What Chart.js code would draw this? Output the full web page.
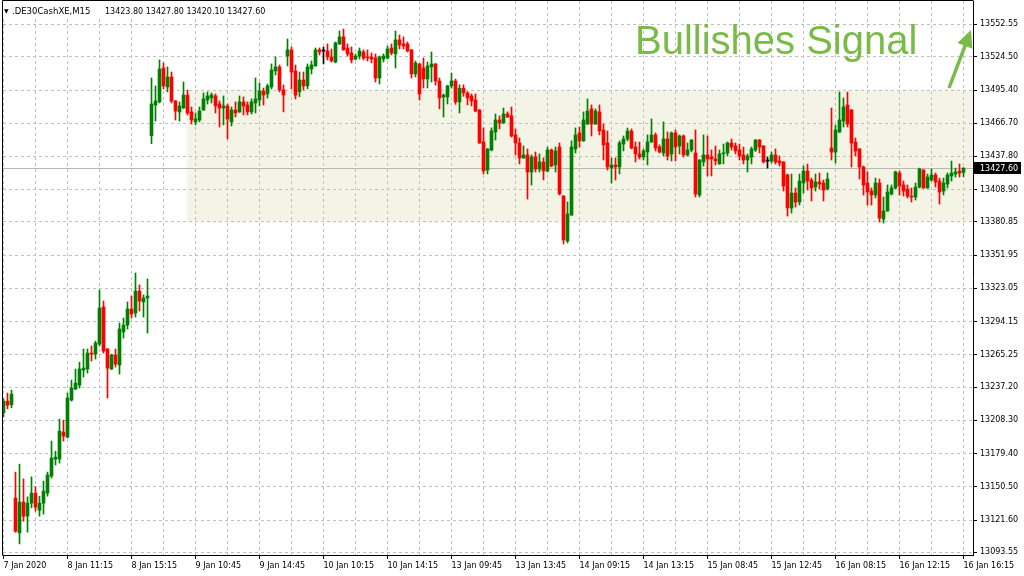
<!DOCTYPE html>
<html>
<head>
<meta charset="utf-8">
<script src="https://cdn.jsdelivr.net/npm/chart.js@4.4.1/dist/chart.umd.min.js"></script>
<style>
  html, body { margin: 0; padding: 0; background: #ffffff; }
  #c { display: block; background: #ffffff; }
</style>
</head>
<body>
<canvas id="c" width="1024" height="576"></canvas>
<script>
// ---------- DATA (DE30 cash, M15 candles) ----------
const symbolName = '.DE30CashXE,M15';
const signalText = 'Bullishes Signal';

const opens = [
13214.9,13225.0,13221.8,13140.7,13110.5,13137.2,13125.0,13136.3,13145.0,13130.2,
13136.3,13145.0,13159.8,13174.6,13174.6,13198.1,13193.7,13225.9,13235.5,13238.9,
13252.0,13252.9,13266.8,13265.9,13274.6,13306.8,13270.3,13252.9,13265.1,13256.4,
13285.1,13291.1,13305.1,13301.6,13320.7,13311.2,13314.7,13455.8,13482.4,13485.1,
13514.6,13498.1,13506.8,13485.9,13476.4,13479.8,13491.1,13476.4,13467.7,13469.4,
13478.1,13486.8,13488.5,13490.3,13483.3,13479.8,13481.6,13467.7,13478.1,13476.4,
13485.1,13482.4,13476.4,13484.2,13486.8,13494.6,13492.0,13498.1,13512.0,13515.5,
13495.5,13525.0,13530.3,13512.0,13494.0,13504.2,13499.0,13513.7,13516.4,13530.3,
13529.4,13529.4,13524.2,13519.8,13535.5,13541.6,13532.0,13527.7,13522.4,13525.0,
13528.5,13524.2,13524.2,13523.3,13505.9,13522.4,13523.3,13532.0,13526.8,13539.0,
13535.5,13535.5,13530.3,13509.4,13518.1,13514.6,13505.1,13515.5,13518.1,13503.3,
13489.4,13489.4,13499.0,13503.3,13485.1,13497.0,13492.9,13490.3,13486.8,13478.1,
13450.3,13425.9,13443.3,13459.0,13469.4,13466.8,13474.6,13472.9,13456.4,13449.4,
13436.4,13439.0,13424.2,13437.3,13426.8,13432.9,13425.1,13443.3,13430.3,13445.9,
13403.3,13364.2,13386.8,13444.2,13458.1,13451.2,13465.9,13479.0,13465.9,13476.4,
13460.7,13449.4,13427.7,13430.3,13428.6,13448.5,13452.9,13459.8,13445.9,13439.9,
13437.2,13441.6,13450.3,13456.4,13445.9,13440.7,13452.9,13439.9,13458.1,13446.8,
13455.5,13439.0,13443.3,13440.7,13404.2,13432.9,13439.0,13437.2,13435.5,13431.2,
13439.9,13440.7,13449.4,13446.8,13443.3,13439.0,13434.6,13437.2,13443.3,13452.0,
13446.8,13433.7,13433.7,13438.9,13433.7,13432.9,13421.6,13392.9,13405.9,13398.1,
13414.6,13425.0,13417.2,13411.1,13415.5,13414.6,13409.4,13445.0,13441.5,13458.9,
13468.5,13482.4,13478.1,13450.2,13444.2,13428.5,13414.6,13407.6,13404.2,13414.6,
13383.3,13390.3,13405.0,13410.3,13423.3,13412.9,13409.4,13403.3,13402.4,13411.1,
13425.9,13410.3,13417.2,13421.6,13416.3,13407.6,13413.7,13420.7,13422.4,13425.0,
13423.8];

const highs = [
13227.1,13232.0,13234.6,13163.3,13170.2,13157.4,13141.8,13159.2,13150.5,13142.4,
13155.4,13163.3,13190.3,13181.5,13209.4,13208.5,13232.0,13243.3,13252.9,13258.9,
13270.3,13270.3,13272.9,13277.2,13321.6,13312.0,13270.8,13265.9,13270.3,13292.9,
13297.2,13311.2,13316.4,13336.4,13326.0,13317.3,13331.2,13505.9,13499.0,13521.6,
13519.0,13515.5,13511.1,13486.3,13485.1,13502.4,13495.5,13480.7,13475.5,13480.7,
13492.9,13493.8,13492.9,13492.0,13485.9,13490.3,13483.3,13480.7,13485.1,13490.3,
13489.4,13485.1,13487.7,13505.9,13501.6,13497.2,13500.7,13518.1,13524.2,13517.2,
13499.8,13539.8,13532.9,13517.2,13511.1,13511.1,13518.1,13520.7,13532.0,13532.0,
13532.9,13535.5,13531.1,13537.2,13546.8,13548.5,13535.5,13532.9,13526.8,13532.0,
13530.3,13530.3,13527.7,13526.8,13525.0,13526.8,13533.7,13535.5,13546.8,13543.3,
13541.6,13537.2,13530.8,13520.7,13518.5,13523.3,13519.8,13528.5,13518.5,13505.9,
13492.0,13499.4,13510.3,13505.0,13500.0,13500.0,13494.0,13492.0,13492.0,13478.5,
13462.5,13444.6,13462.5,13474.6,13472.9,13479.8,13476.4,13480.7,13461.6,13453.8,
13446.8,13444.2,13439.0,13441.6,13439.9,13436.4,13445.9,13444.2,13445.9,13449.4,
13403.7,13398.1,13451.2,13462.5,13463.3,13476.4,13487.7,13482.5,13479.0,13482.5,
13465.9,13459.8,13436.4,13436.4,13451.2,13455.5,13462.4,13461.6,13450.3,13450.3,
13444.2,13456.4,13470.3,13458.1,13447.7,13467.7,13459.0,13459.0,13460.7,13456.4,
13456.4,13449.4,13452.4,13460.7,13435.0,13456.4,13455.5,13443.3,13446.8,13443.3,
13448.5,13450.3,13452.9,13449.4,13448.5,13445.9,13439.9,13445.9,13452.4,13452.4,
13447.2,13437.2,13441.5,13444.2,13438.1,13433.3,13422.4,13422.4,13410.3,13422.4,
13429.4,13431.1,13418.9,13422.4,13423.3,13417.2,13423.3,13479.8,13465.0,13493.7,
13488.5,13493.7,13478.5,13453.7,13444.6,13429.4,13424.2,13410.3,13418.9,13418.1,
13402.4,13412.9,13412.9,13425.0,13425.0,13416.3,13412.9,13410.3,13414.6,13427.6,
13426.3,13422.4,13426.8,13423.3,13418.9,13418.9,13423.3,13433.7,13427.6,13431.1,
13427.8];

const lows = [
13211.4,13218.3,13219.2,13111.0,13100.9,13120.6,13111.1,13132.3,13129.4,13125.0,
13126.7,13142.4,13158.1,13169.4,13171.1,13190.3,13193.0,13225.0,13235.0,13236.4,
13245.9,13249.4,13259.8,13261.6,13272.9,13266.8,13227.7,13252.5,13254.6,13248.5,
13279.8,13287.7,13297.2,13298.1,13303.3,13298.1,13284.2,13448.8,13468.5,13484.2,
13496.4,13493.8,13484.2,13469.4,13468.5,13479.4,13473.8,13465.9,13465.1,13467.7,
13477.7,13483.3,13484.2,13475.5,13463.3,13465.1,13452.9,13464.2,13472.0,13476.0,
13473.8,13473.8,13474.6,13475.5,13481.6,13482.4,13488.5,13496.4,13508.5,13493.8,
13476.4,13516.4,13496.4,13487.7,13489.7,13495.5,13496.4,13509.4,13516.0,13525.9,
13518.1,13521.6,13519.8,13519.0,13535.0,13530.0,13525.0,13519.0,13521.6,13522.4,
13521.6,13520.7,13519.0,13502.4,13500.7,13519.8,13522.4,13525.9,13514.6,13531.1,
13531.1,13528.5,13505.9,13506.8,13486.8,13497.2,13497.2,13502.4,13499.8,13479.0,
13472.0,13483.3,13497.0,13483.0,13475.5,13490.0,13482.5,13481.6,13476.4,13449.0,
13422.5,13422.5,13442.5,13452.0,13461.6,13466.4,13471.6,13454.6,13439.0,13431.2,
13436.0,13400.7,13412.9,13424.2,13424.2,13417.3,13424.2,13428.6,13424.2,13404.2,
13361.6,13362.5,13386.4,13440.7,13445.9,13450.8,13465.5,13455.5,13465.5,13456.4,
13434.6,13425.9,13414.6,13417.2,13422.5,13442.5,13451.2,13444.2,13432.9,13435.5,
13434.6,13430.3,13449.9,13442.5,13440.7,13438.1,13434.6,13433.8,13433.8,13439.9,
13437.2,13438.1,13441.6,13402.5,13402.5,13429.4,13420.7,13420.7,13430.3,13430.8,
13431.2,13438.1,13443.3,13439.9,13434.6,13431.2,13424.2,13431.2,13442.0,13440.7,
13432.0,13427.6,13432.0,13431.1,13429.4,13407.6,13385.9,13388.5,13393.7,13395.5,
13405.9,13408.5,13399.0,13407.6,13409.4,13399.0,13408.5,13434.6,13432.0,13458.5,
13463.3,13463.3,13428.5,13438.1,13418.1,13404.2,13395.5,13395.5,13401.6,13380.7,
13379.8,13389.9,13404.2,13409.4,13404.2,13403.3,13401.6,13398.1,13399.8,13410.3,
13410.0,13410.0,13416.3,13411.1,13396.3,13404.2,13410.3,13416.3,13419.8,13419.8,
13420.1];

const closes = [
13225.0,13221.5,13231.1,13111.9,13137.2,13125.0,13136.3,13145.0,13132.8,13136.3,
13146.7,13160.7,13175.5,13176.3,13198.9,13194.6,13227.7,13236.4,13240.7,13252.9,
13253.7,13266.8,13265.9,13275.5,13305.9,13268.5,13253.7,13265.1,13257.2,13287.7,
13291.1,13305.1,13300.7,13320.7,13312.0,13314.7,13316.4,13483.3,13485.9,13513.7,
13499.0,13506.8,13485.9,13477.2,13481.6,13491.1,13475.5,13469.4,13470.3,13477.2,
13487.7,13490.3,13491.1,13481.6,13479.8,13481.6,13470.3,13478.1,13475.5,13485.1,
13481.6,13476.4,13485.1,13487.7,13494.6,13491.1,13499.0,13512.9,13515.5,13495.5,
13491.1,13530.3,13511.1,13491.0,13504.2,13499.0,13515.5,13517.2,13530.3,13528.5,
13529.4,13524.2,13520.7,13536.4,13541.6,13530.3,13526.8,13521.6,13525.0,13529.4,
13523.3,13523.3,13522.4,13505.9,13524.2,13525.0,13531.1,13527.7,13539.0,13534.6,
13533.7,13529.4,13509.4,13519.0,13492.0,13505.1,13516.4,13518.1,13503.3,13488.5,
13491.1,13499.0,13503.3,13485.1,13497.0,13492.9,13488.5,13485.9,13477.2,13449.4,
13425.1,13444.2,13459.9,13469.4,13466.8,13474.6,13472.0,13455.5,13449.4,13436.4,
13439.0,13424.2,13437.3,13426.8,13432.9,13425.1,13443.3,13429.4,13442.5,13405.1,
13365.1,13387.7,13445.9,13456.4,13451.2,13469.4,13477.2,13465.9,13477.2,13459.9,
13447.7,13428.6,13430.3,13428.6,13449.4,13452.9,13459.8,13445.1,13439.9,13437.2,
13442.5,13450.3,13456.4,13445.1,13441.6,13452.9,13438.1,13458.1,13445.9,13455.5,
13439.0,13443.3,13452.0,13405.1,13434.6,13439.0,13435.5,13435.5,13433.8,13439.9,
13440.7,13449.4,13445.9,13442.5,13438.1,13434.6,13438.1,13444.2,13452.0,13445.9,
13432.9,13433.7,13438.9,13432.9,13432.0,13412.0,13392.9,13405.9,13398.1,13416.3,
13425.0,13416.3,13410.3,13415.5,13413.7,13408.5,13418.1,13441.5,13460.7,13469.4,
13480.7,13465.9,13449.4,13442.4,13428.5,13412.9,13406.8,13404.2,13414.6,13384.2,
13390.3,13406.8,13410.3,13424.2,13412.0,13407.6,13403.3,13402.4,13411.1,13426.8,
13410.3,13419.8,13421.6,13415.5,13406.8,13414.6,13421.6,13423.3,13424.2,13423.3,
13427.6];

// time labels, one every 16 bars (bar 0, 16, 32, ...)
const xTickLabels = [
  '7 Jan 2020', '8 Jan 11:15', '8 Jan 15:15', '9 Jan 10:45', '9 Jan 14:45',
  '10 Jan 10:15', '10 Jan 14:15', '13 Jan 09:45', '13 Jan 13:45', '14 Jan 09:15',
  '14 Jan 13:15', '15 Jan 08:45', '15 Jan 12:45', '16 Jan 08:15', '16 Jan 12:15',
  '16 Jan 16:15'
];
// price scale labels
const yTickValues = [
  13552.55, 13524.50, 13495.40, 13466.70, 13437.80, 13408.90, 13380.85, 13351.95,
  13323.05, 13294.15, 13265.25, 13237.20, 13208.30, 13179.40, 13150.50, 13121.60, 13093.55
];
// highlighted consolidation zone (from bar, upper price, lower price)
const zoneFromBar = 45.8;
const zoneHigh = 13495.40;
const zoneLow = 13380.85;

// ---------- STYLE ----------
const UP = '#008000', DOWN = '#ff0000', FLAT = '#000000';
const AXIS_FONT = { family: 'DejaVu Sans', size: 8 };
const GRID = '#c0c0c0';
const SIGNAL = 'rgb(122,186,72)';

const idx = opens.map((_, i) => i);
const colors = idx.map(i => closes[i] > opens[i] ? UP : (closes[i] < opens[i] ? DOWN : FLAT));
const wickData = idx.map(i => ({ x: i, y: [lows[i], highs[i]] }));
const bodyData = idx.map(i => ({ x: i, y: [opens[i], closes[i]] }));
const last = closes.length - 1;

const noPad = (s) => { s.paddingTop = 0; s.paddingBottom = 0; s.paddingLeft = 0; s.paddingRight = 0; };

const overlay = {
  id: 'overlay',
  beforeDraw(chart) {
    const { ctx, chartArea: a, scales: { x, y } } = chart;
    ctx.save();
    ctx.fillStyle = '#ffffff';
    ctx.fillRect(0, 0, chart.width, chart.height);
    ctx.beginPath();
    ctx.rect(a.left, a.top, a.right - a.left, a.bottom - a.top);
    ctx.clip();
    ctx.filter = 'blur(1.5px)';
    ctx.fillStyle = '#f3f4e6';
    const x0 = x.getPixelForValue(zoneFromBar);
    const y0 = y.getPixelForValue(zoneHigh);
    const y1 = y.getPixelForValue(zoneLow);
    ctx.fillRect(x0, y0, a.right - x0 + 6, y1 - y0);
    ctx.restore();
  },
  beforeDatasetsDraw(chart) {
    const { ctx, chartArea: a, scales: { y } } = chart;
    const py = Math.round(y.getPixelForValue(closes[last])) + 0.5;
    ctx.save();
    ctx.strokeStyle = '#b8b8b0';
    ctx.lineWidth = 1;
    ctx.beginPath();
    ctx.moveTo(a.left, py);
    ctx.lineTo(a.right, py);
    ctx.stroke();
    ctx.restore();
  },
  afterDraw(chart) {
    const { ctx, chartArea: a, scales: { y } } = chart;
    ctx.save();
    // frame (left + top)
    ctx.strokeStyle = '#000';
    ctx.lineWidth = 1;
    ctx.beginPath();
    ctx.moveTo(a.left - 0.5, a.bottom + 0.5);
    ctx.lineTo(a.left - 0.5, a.top - 0.5);
    ctx.lineTo(a.right + 0.5, a.top - 0.5);
    ctx.stroke();

    // title
    ctx.fillStyle = '#ffffff';
    ctx.fillRect(a.left, a.top, 268, 15);
    ctx.fillStyle = '#000';
    ctx.font = '6px "DejaVu Sans"';
    ctx.textBaseline = 'alphabetic';
    ctx.fillText('\u25BC', 4, 13);
    ctx.font = '8.5px "DejaVu Sans"';
    ctx.fillText(symbolName, 12, 14);
    const ohlc = [opens[last], highs[last], lows[last], closes[last]].map(v => v.toFixed(2)).join(' ');
    ctx.font = '8px "DejaVu Sans"';
    ctx.fillText(ohlc, 105, 14);

    // current price tag
    const py = Math.round(y.getPixelForValue(closes[last]));
    ctx.fillStyle = '#000';
    ctx.fillRect(a.right + 1, py - 6, 47, 12);
    ctx.fillStyle = '#fff';
    ctx.textBaseline = 'middle';
    ctx.fillText(closes[last].toFixed(2), a.right + 7, py + 0.5);

    // signal text
    ctx.fillStyle = SIGNAL;
    ctx.textBaseline = 'alphabetic';
    ctx.font = '40px "Liberation Sans"';
    ctx.fillText(signalText, 635, 54);

    // arrow
    const tx = 949, ty = 88, hx = 971, hy = 30;
    const dx = hx - tx, dy = hy - ty, len = Math.hypot(dx, dy);
    const ux = dx / len, uy = dy / len, nx = -uy, ny = ux;
    const headL = 17, headW = 8;
    const bx = hx - ux * headL, by = hy - uy * headL;
    ctx.filter = 'blur(0.6px)';
    ctx.strokeStyle = SIGNAL;
    ctx.lineWidth = 3.5;
    ctx.beginPath();
    ctx.moveTo(tx, ty);
    ctx.lineTo(bx + ux * 2, by + uy * 2);
    ctx.stroke();
    ctx.fillStyle = SIGNAL;
    ctx.beginPath();
    ctx.moveTo(hx, hy);
    ctx.lineTo(bx + nx * headW, by + ny * headW);
    ctx.lineTo(bx - nx * headW, by - ny * headW);
    ctx.closePath();
    ctx.fill();
    ctx.restore();
  }
};

new Chart(document.getElementById('c'), {
  type: 'bar',
  data: {
    datasets: [
      { data: wickData, backgroundColor: colors, barThickness: 1, grouped: false, order: 2 },
      { data: bodyData, backgroundColor: colors, barThickness: 3, grouped: false, minBarLength: 1, order: 1 }
    ]
  },
  options: {
    responsive: false,
    animation: false,
    devicePixelRatio: 1,
    layout: { padding: { left: 3, top: 1, right: 0, bottom: 0 }, autoPadding: false },
    plugins: { legend: { display: false }, tooltip: { enabled: false } },
    scales: {
      x: {
        type: 'linear',
        min: -0.125,
        max: 242.375,
        offset: false,
        afterBuildTicks: (s) => {
          const t = [];
          for (let v = 0; v <= 240; v += 8) t.push({ value: v });
          s.ticks = t;
        },
        afterFit: (s) => { s.height = 21; noPad(s); },
        ticks: {
          autoSkip: false, maxRotation: 0, minRotation: 0, align: 'start',
          padding: 2, color: '#000', font: AXIS_FONT,
          callback: (v) => (v % 16 === 0 ? xTickLabels[v / 16] : '')
        },
        grid: {
          offset: false, color: GRID, lineWidth: 1, tickLength: 4,
          tickColor: (c) => (c.tick && c.tick.value % 16 === 0 ? '#000' : 'rgba(0,0,0,0)')
        },
        border: { display: true, color: '#000', dash: [3, 3] }
      },
      y: {
        type: 'linear',
        position: 'right',
        min: 13091.24,
        max: 13572.83,
        afterBuildTicks: (s) => { s.ticks = yTickValues.map(v => ({ value: v })); },
        afterFit: (s) => { s.width = 51; noPad(s); },
        ticks: {
          padding: 3, color: '#000', font: AXIS_FONT,
          callback: (v) => Number(v).toFixed(2)
        },
        grid: { color: GRID, lineWidth: 1, tickLength: 4, tickColor: '#000' },
        border: { display: true, color: '#000', dash: [3, 3] }
      }
    }
  },
  plugins: [overlay]
});
</script>
</body>
</html>
